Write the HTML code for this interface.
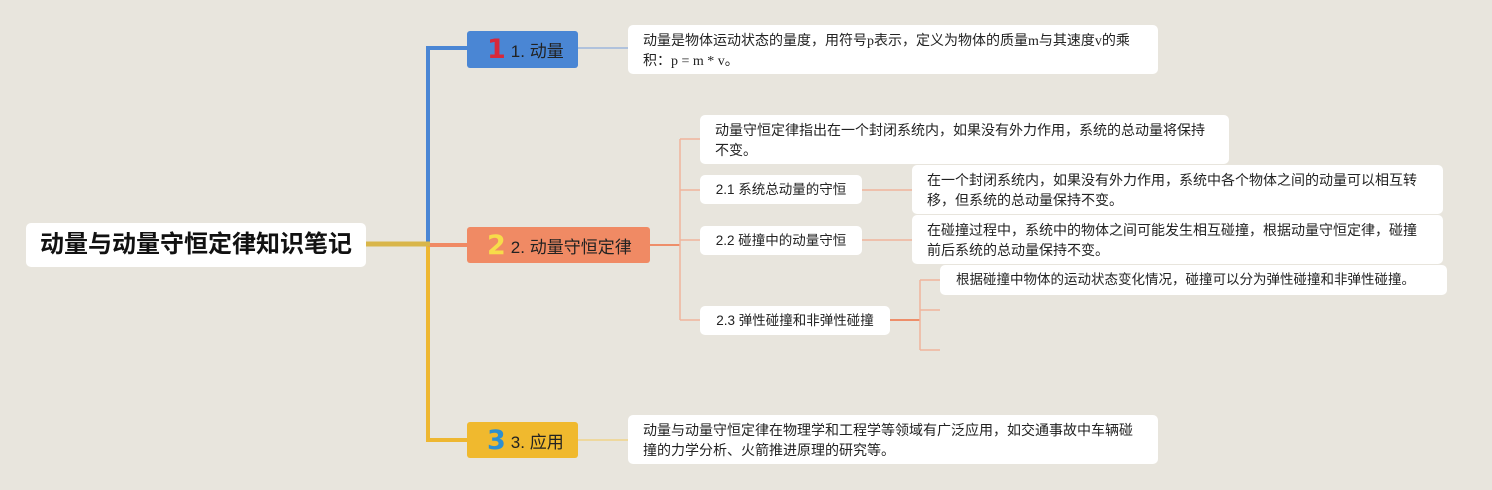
<!DOCTYPE html>
<html><head><meta charset="utf-8"><style>
body{margin:0;width:1492px;height:490px;background:#e8e5dd;position:relative;overflow:hidden;font-family:"Liberation Sans","Noto Sans CJK SC",sans-serif;}
.b{position:absolute;background:#fff;border-radius:5px;box-sizing:border-box;color:#222;font-size:13.5px;line-height:20px;}
.t{padding:7px 22px 3px 15px;font-size:14px;font-family:"Liberation Serif","Noto Sans CJK SC",sans-serif;}
.s{display:flex;align-items:center;justify-content:center;}
.m{position:absolute;border-radius:3px;display:flex;align-items:center;color:#222;font-size:17px;box-sizing:border-box;padding-left:20px;}
.m b{font-size:27px;font-weight:900;margin-right:5px;font-family:"DejaVu Sans",sans-serif;}
svg{position:absolute;left:0;top:0;}
</style></head><body>
<svg width="1492" height="490">
<g fill="none" stroke-linejoin="miter">
<path d="M428 244 V48 H467" stroke="#4a86d4" stroke-width="4"/>
<path d="M428 245 V440 H467" stroke="#eeb731" stroke-width="4"/>
<path d="M428 245 H467" stroke="#f08a64" stroke-width="4"/>
<path d="M366 244 H430" stroke="#d9b64a" stroke-width="5"/>
<path d="M578 48 H628" stroke="#9db7dc" stroke-width="1.5"/>
<path d="M578 440 H628" stroke="#f0d48a" stroke-width="1.5"/>
<path d="M650 245 H680" stroke="#ee8e6a" stroke-width="2"/>
<path d="M680 139 V320 M680 139 H700 M680 190 H700 M680 240 H700 M680 320 H700" stroke="#efb49c" stroke-width="1.5"/>
<path d="M862 190 H912 M862 240 H912" stroke="#efb49c" stroke-width="1.5"/>
<path d="M890 320 H920" stroke="#ee8e6a" stroke-width="2"/>
<path d="M920 280 V350 M920 280 H940 M920 310 H940 M920 350 H940" stroke="#efb49c" stroke-width="1.5"/>
</g></svg>
<div class="b s" style="left:26px;top:223px;width:340px;height:44px;font-size:24px;font-weight:bold;color:#111;">动量与动量守恒定律知识笔记</div>
<div class="m" style="left:467px;top:31px;width:111px;height:37px;background:#4a86d4;"><b style="color:#d8283a">1</b>1. 动量</div>
<div class="m" style="left:467px;top:227px;width:183px;height:36px;background:#f08a64;"><b style="color:#f7dc4a">2</b>2. 动量守恒定律</div>
<div class="m" style="left:467px;top:422px;width:111px;height:36px;background:#f0b92e;"><b style="color:#2e8fd0">3</b>3. 应用</div>
<div class="b t" style="left:628px;top:25px;width:530px;height:49px;">动量是物体运动状态的量度，用符号p表示，定义为物体的质量m与其速度v的乘积：p = m * v。</div>
<div class="b t" style="left:700px;top:115px;width:529px;height:49px;">动量守恒定律指出在一个封闭系统内，如果没有外力作用，系统的总动量将保持不变。</div>
<div class="b s" style="left:700px;top:175px;width:162px;height:29px;">2.1 系统总动量的守恒</div>
<div class="b t" style="left:912px;top:165px;width:531px;height:49px;">在一个封闭系统内，如果没有外力作用，系统中各个物体之间的动量可以相互转移，但系统的总动量保持不变。</div>
<div class="b s" style="left:700px;top:226px;width:162px;height:29px;">2.2 碰撞中的动量守恒</div>
<div class="b t" style="left:912px;top:215px;width:531px;height:49px;">在碰撞过程中，系统中的物体之间可能发生相互碰撞，根据动量守恒定律，碰撞前后系统的总动量保持不变。</div>
<div class="b s" style="left:700px;top:306px;width:190px;height:29px;">2.3 弹性碰撞和非弹性碰撞</div>
<div class="b t" style="left:940px;top:265px;width:507px;height:30px;padding:5px 10px 5px 16px;font-size:13.5px;">根据碰撞中物体的运动状态变化情况，碰撞可以分为弹性碰撞和非弹性碰撞。</div>
<div class="b t" style="left:628px;top:415px;width:530px;height:49px;">动量与动量守恒定律在物理学和工程学等领域有广泛应用，如交通事故中车辆碰撞的力学分析、火箭推进原理的研究等。</div>
</body></html>
